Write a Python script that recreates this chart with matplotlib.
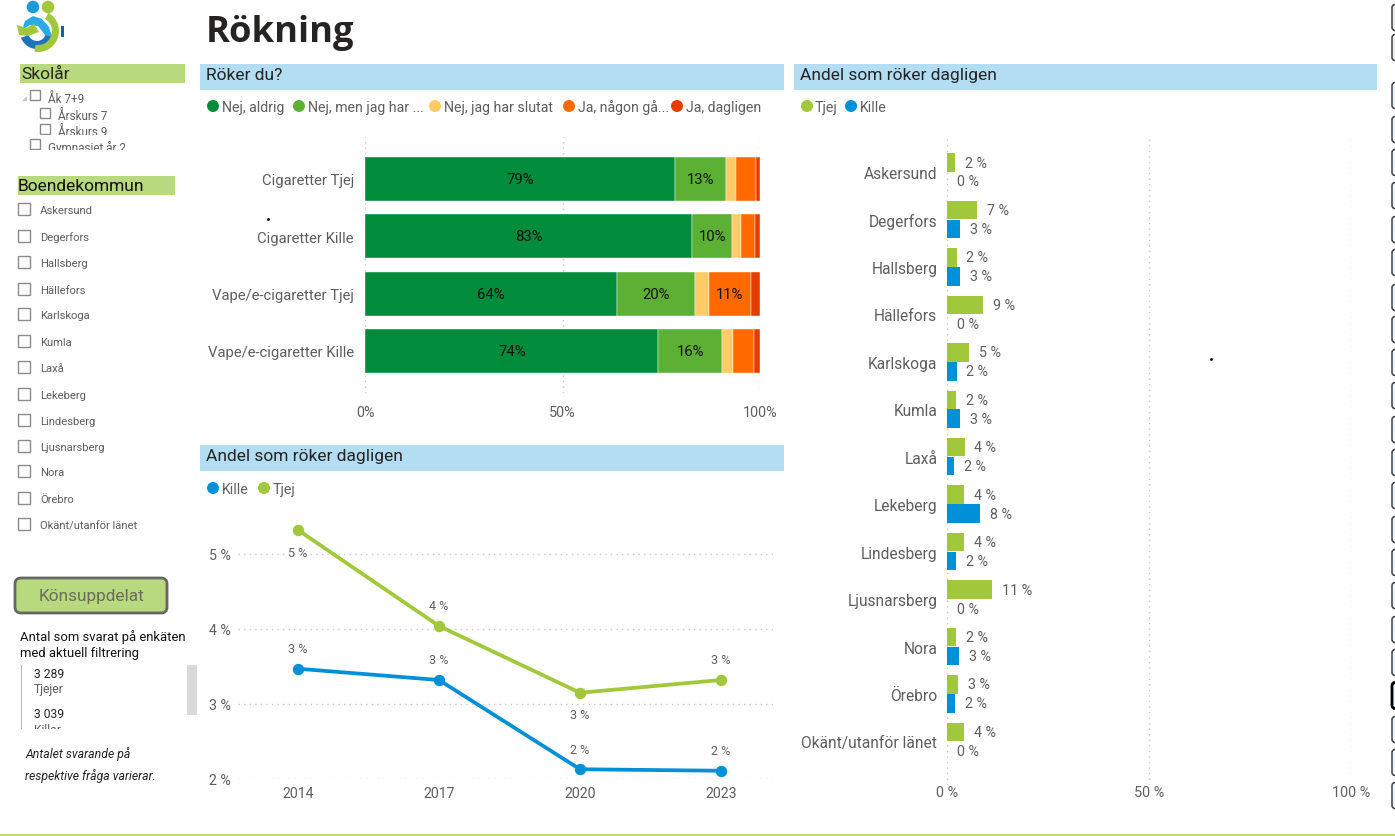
import matplotlib
matplotlib.use("Agg")
import matplotlib.pyplot as plt
from matplotlib.patches import Rectangle, FancyBboxPatch, Circle, Wedge, Polygon

W, H = 1395, 837

# stacked bars
stack_rows = ["Cigaretter Tjej", "Cigaretter Kille", "Vape/e-cigaretter Tjej", "Vape/e-cigaretter Kille"]
stack_names = ["Nej, aldrig", "Nej, men jag har ...", "Nej, jag har slutat", "Ja, någon gå...", "Ja, dagligen"]
nej_aldrig = [78.6, 82.9, 63.9, 74.3]
nej_provat = [12.8, 10.1, 19.7, 16.1]
nej_slutat = [2.5, 2.3, 3.4, 2.8]
ja_ibland = [5.1, 3.4, 10.6, 5.2]
ja_dagligen = [1.0, 1.3, 2.4, 1.6]
stack_values = [nej_aldrig, nej_provat, nej_slutat, ja_ibland, ja_dagligen]
stack_colors = ["#008C3A", "#5CB135", "#FFCB66", "#FF6900", "#E63C00"]

# line chart
years = ["2014", "2017", "2020", "2023"]
line_tjej = [5.32, 4.04, 3.15, 3.32]
line_kille = [3.47, 3.32, 2.13, 2.11]

# municipalities
kommuner = ["Askersund", "Degerfors", "Hallsberg", "Hällefors", "Karlskoga", "Kumla", "Laxå", "Lekeberg",
            "Lindesberg", "Ljusnarsberg", "Nora", "Örebro", "Okänt/utanför länet"]
kommun_tjej = [2.0, 7.4, 2.4, 8.9, 5.4, 2.2, 4.4, 4.2, 4.2, 11.1, 2.2, 2.7, 4.2]
kommun_kille = [0, 3.2, 3.2, 0, 2.4, 3.2, 1.7, 8.2, 2.2, 0, 3.0, 2.0, 0]

GREEN = "#A1C83A"
BLUE = "#0090D7"
HEAD_GREEN = "#B9D97E"
HEAD_BLUE = "#B2DDF2"
GREY = "#605E5C"
DARK = "#252423"

plt.rcParams["font.family"] = ["Roboto", "DejaVu Sans"]

fig = plt.figure(figsize=(W / 100, H / 100), dpi=100)
fig.patch.set_facecolor("white")


def ax_px(left, top, right, bottom):
    ax = fig.add_axes([left / W, 1 - bottom / H, (right - left) / W, (bottom - top) / H])
    ax.patch.set_alpha(0)
    for s in ax.spines.values():
        s.set_visible(False)
    return ax


def dotted_grid(ax, axis):
    ax.grid(True, axis=axis, color="#C8C8C8", linestyle=(0, (1, 3)), linewidth=1)
    ax.set_axisbelow(True)


# page furniture lives in one pixel-coordinate axes
bg = fig.add_axes([0, 0, 1, 1])
bg.set_xlim(0, W)
bg.set_ylim(H, 0)
bg.axis("off")


def box(x0, y0, x1, y1, color, z=1):
    bg.add_patch(Rectangle((x0, y0), x1 - x0, y1 - y0, facecolor=color, edgecolor="none", zorder=z))


def txt(x, y, s, size=9.2, color=GREY, **kw):
    kw.setdefault("va", "center")
    return bg.text(x, y + 1, s, fontsize=size, color=color, zorder=3, **kw)


def checkbox(x, y, size, color="#8A8A8A"):
    bg.add_patch(Rectangle((x, y - size / 2), size, size, facecolor="white", edgecolor=color, linewidth=1, zorder=2))


def legend_items(items):
    for cx, tx, y, name, c in items:
        bg.add_patch(Circle((cx, y), 6, facecolor=c, edgecolor="none", zorder=3))
        txt(tx, y, name, 10.2)


txt(206, 32, "Rökning", 26.2, DARK, fontfamily="Open Sans", fontweight="bold")

box(200, 65, 784, 90.5, HEAD_BLUE)
box(794, 65, 1377, 90.5, HEAD_BLUE)
box(200, 446, 784, 471.5, HEAD_BLUE)
txt(206, 74, "Röker du?", 12.5, DARK)
txt(800, 74, "Andel som röker dagligen", 12.5, DARK)
txt(206, 455, "Andel som röker dagligen", 12.5, DARK)

legend_items([(213, 222, 107, stack_names[0], stack_colors[0]),
              (299, 308, 107, stack_names[1], stack_colors[1]),
              (435, 444, 107, stack_names[2], stack_colors[2]),
              (569, 578, 107, stack_names[3], stack_colors[3]),
              (677, 686, 107, stack_names[4], stack_colors[4]),
              (807, 815, 107, "Tjej", GREEN),
              (851, 860, 107, "Kille", BLUE),
              (213, 222, 489, "Kille", BLUE),
              (264, 273, 489, "Tjej", GREEN)])

# left column
box(20, 65, 185, 83.5, HEAD_GREEN)
txt(21, 73, "Skolår", 12.5, DARK)
bg.add_patch(Polygon([(22, 102), (27, 97), (27, 102)], facecolor="#C8C8C8", zorder=2))
checkbox(30, 96, 10)
txt(48, 98, "Åk 7+9", 8.5, GREY)
checkbox(40, 114, 10)
txt(58, 115, "Årskurs 7", 8.5, GREY)
checkbox(40, 130, 10)
txt(58, 131, "Årskurs 9", 8.5, GREY)
box(20, 136, 180, 139, "white", 4)
checkbox(30, 145, 10)
txt(48, 147, "Gymnasiet år 2", 8.5, GREY)
box(20, 151, 180, 160, "white", 4)

box(18, 177, 175, 195.5, HEAD_GREEN)
txt(18, 185, "Boendekommun", 12.5, "#111111")
slicer_y = [210, 237, 263, 290, 315, 342, 368, 395, 421, 447, 472, 499, 525]
for name, y in zip(kommuner, slicer_y):
    checkbox(18, y, 12)
    txt(40, y, name, 8.1, GREY)

bg.add_patch(FancyBboxPatch((19, 583), 144, 27, boxstyle="round,pad=4,rounding_size=6", facecolor=HEAD_GREEN,
                            edgecolor="#666666", linewidth=2, zorder=2))
txt(91, 596, "Könsuppdelat", 12.4, "#6B6B5E", ha="center")

txt(20, 636, "Antal som svarat på enkäten", 9.4, "#111111")
txt(20, 652, "med aktuell filtrering", 9.4, "#111111")
box(20.5, 666, 22, 730, "#B8B8B8")
box(187, 666, 197, 716, "#D9D9D9")
txt(34, 674, "3 289", 8.7, DARK)
txt(34, 689, "Tjejer", 8.7, GREY)
txt(34, 713, "3 039", 8.7, DARK)
txt(34, 729, "Killar", 8.7, GREY)
box(24, 730, 180, 738, "white", 4)
txt(25, 753, "Antalet svarande på", 8.8, "#222222", style="italic")
txt(25, 775, "respektive fråga varierar.", 8.8, "#222222", style="italic")

box(0, 835, W, 837, HEAD_GREEN)

# logo
bg.add_patch(Circle((33, 8), 6.3, facecolor="#1C9AD6", zorder=2))
bg.add_patch(Circle((48, 8), 6.3, facecolor="#A1C83A", zorder=2))
bg.add_patch(Wedge((37, 33), 17, 10, 160, width=8, facecolor="#1B75BC", zorder=2))
bg.add_patch(Polygon([(22, 31), (25, 22), (33, 17), (42, 20), (49, 28), (52, 38), (45, 36), (38, 27), (30, 26)],
                     facecolor="#29ABE2", zorder=2))
bg.add_patch(Wedge((38, 32), 21, -60, 100, width=7, facecolor="#A1C83A", zorder=3))
bg.add_patch(Polygon([(17, 26), (26, 29), (34, 25), (39, 33), (28, 37), (19, 36)], facecolor="#A1C83A", zorder=3))
bg.add_patch(Rectangle((61, 27), 3, 11, facecolor="#1B5FA8", zorder=2))

# right edge buttons
btn_tops = [5, 35, 83, 117, 150, 183, 217, 250, 285, 317, 350, 383, 417, 450, 483, 517, 550, 583, 617, 650, 683,
            717, 750, 783]
for y in btn_tops:
    face = "#EDEDED" if y < 60 else "#EEF6FC"
    black = y == 683
    bg.add_patch(FancyBboxPatch((1393.5, y + 2), 8, 23, boxstyle="round,pad=1.5,rounding_size=3", facecolor=face,
                                edgecolor="black" if black else "#333333", linewidth=2 if black else 1, zorder=2))

# stray specks in the screenshot
for sx, sy in [(404, 167), (268, 220), (585, 311), (1211, 360)]:
    bg.plot(sx, sy, marker="o", markersize=1, color="black", zorder=6)

# stacked bars
ax1 = ax_px(365, 138, 760, 394)
ypos = list(range(len(stack_rows)))
left = [0] * len(stack_rows)
for vals, c in zip(stack_values, stack_colors):
    ax1.barh(ypos, vals, 0.77, left=left, color=c, edgecolor="white", linewidth=0.3, zorder=2)
    for i, v in enumerate(vals):
        if v >= 10:
            ax1.text(left[i] + v / 2, i, f"{round(v)}%", ha="center", va="center", fontsize=10.7, color="#111111",
                     zorder=3)
    left = [a + b for a, b in zip(left, vals)]
ax1.set_xlim(0, 100)
ax1.set_ylim(3.735, -0.733)
ax1.set_yticks(ypos, stack_rows)
ax1.set_xticks([0, 50, 100], ["0%", "50%", "100%"])
ax1.tick_params(length=0, labelsize=10.4, labelcolor=GREY)
ax1.tick_params(axis="y", pad=8, labelsize=10.7)
ax1.tick_params(axis="x", pad=9)
dotted_grid(ax1, "x")

# lines
ax2 = ax_px(238, 521, 773, 780)
xs = list(range(len(years)))
ax2.plot(xs, line_kille, color=BLUE, linewidth=2.7, marker="o", markersize=7.2, clip_on=False, zorder=3)
ax2.plot(xs, line_tjej, color=GREEN, linewidth=2.7, marker="o", markersize=7.2, clip_on=False, zorder=4)
tjej_offs = [-16, 15, -16, 15]
for x, v, off in zip(xs, line_tjej, tjej_offs):
    ax2.annotate(f"{round(v)} %", (x, v), xytext=(0, off), textcoords="offset points", ha="center", va="center",
                 fontsize=9, color=GREY)
for x, v in zip(xs, line_kille):
    ax2.annotate(f"{round(v)} %", (x, v), xytext=(0, 14.5), textcoords="offset points", ha="center", va="center",
                 fontsize=9, color=GREY)
ax2.set_xlim(-60 / 141, (773 - 298) / 141)
ax2.set_ylim(2, 2 + 259 / 75)
ax2.set_xticks(xs, years)
ax2.set_yticks([2, 3, 4, 5], ["2 %", "3 %", "4 %", "5 %"])
ax2.tick_params(length=0, labelsize=10.2, labelcolor=GREY)
ax2.tick_params(axis="y", pad=5)
ax2.tick_params(axis="x", pad=5)
dotted_grid(ax2, "y")

# municipalities
ax3 = ax_px(947, 136, 1351, 786)
ypos = list(range(len(kommuner)))
ax3.barh([y - 0.2 for y in ypos], kommun_tjej, 0.39, color=GREEN, zorder=2)
ax3.barh([y + 0.2 for y in ypos], kommun_kille, 0.39, color=BLUE, zorder=2)
for i, (t, k) in enumerate(zip(kommun_tjej, kommun_kille)):
    ax3.annotate(f"{round(t)} %", (t, i - 0.2), xytext=(7, 0), textcoords="offset points", va="center", fontsize=10.3,
                 color=GREY)
    ax3.annotate(f"{round(k)} %", (k, i + 0.2), xytext=(7, 0), textcoords="offset points", va="center", fontsize=10.3,
                 color=GREY)
ax3.set_xlim(0, 100)
ax3.set_ylim((785 - 172) / 47.45, -(172 - 135) / 47.45)
ax3.set_yticks(ypos, kommuner)
ax3.set_xticks([0, 50, 100], ["0 %", "50 %", "100 %"])
ax3.tick_params(length=0, labelsize=11.2, labelcolor=GREY)
ax3.tick_params(axis="y", pad=7)
ax3.tick_params(axis="x", pad=0)
ax3.set_xticklabels(["0 %", "50 %", "100 %"], fontsize=10.4)
dotted_grid(ax3, "x")

fig.savefig("out.png", dpi=100)
